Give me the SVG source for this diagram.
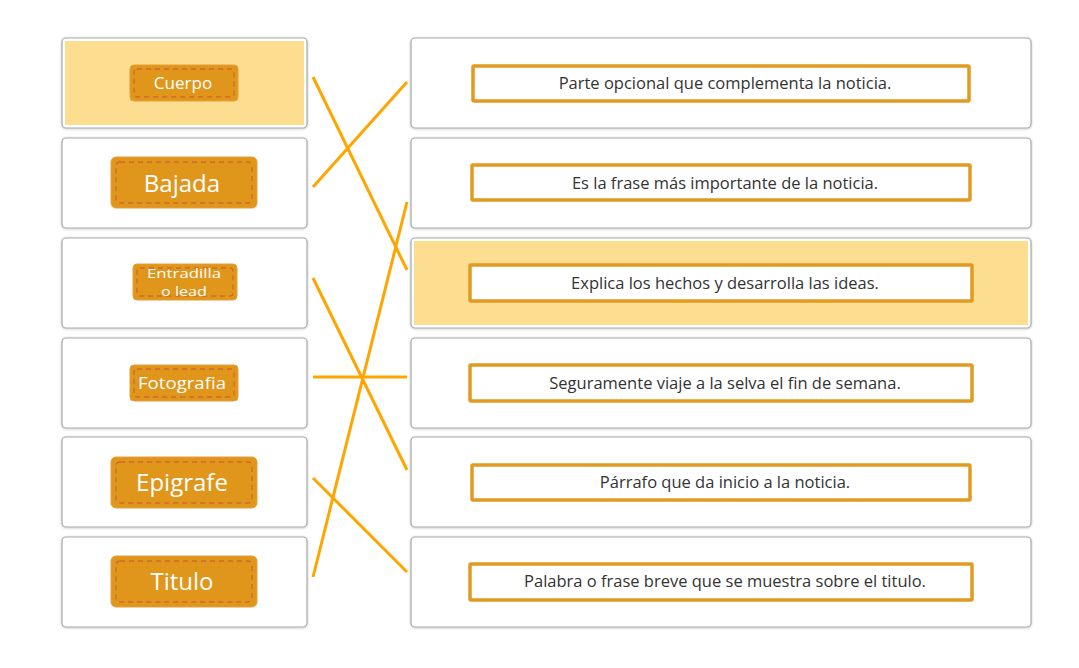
<svg xmlns="http://www.w3.org/2000/svg" width="1079" height="668" viewBox="0 0 1079 668">
<defs>
<filter id="sh" x="-5%" y="-5%" width="110%" height="115%">
<feDropShadow dx="0" dy="0.5" stdDeviation="0.8" flood-color="#000" flood-opacity="0.25"/>
</filter>
</defs>
<style>
.card{fill:#fff;stroke:#a9a9a9;stroke-width:1.2}
.hl{fill:#fddd8f}
.chip{fill:#df961b;stroke:#e3a03a;stroke-width:1}
.dash{fill:none;stroke:#cf6a2b;stroke-width:1.3;stroke-dasharray:5 4}
.lbl{fill:#fff;font-family:"Open Sans","Noto Sans",sans-serif;text-anchor:middle;dominant-baseline:central}
.s{font-size:17px}
.b{font-size:24px}
.opt{fill:#fff;stroke:#e19b20;stroke-width:3.5}
.txt{fill:#333;font-family:"Open Sans","Noto Sans",sans-serif;font-size:16.5px;text-anchor:middle;dominant-baseline:central}
.con{stroke:#ffa500;stroke-width:3;stroke-linecap:butt}
</style>
<rect width="1079" height="668" fill="#fff"/>

<g id="left-cuerpo">
<rect class="card" x="62" y="38" width="245" height="90" rx="4" filter="url(#sh)"/>
<rect class="hl" x="65" y="41" width="239" height="84"/>
<rect class="chip" x="130" y="65" width="108" height="36" rx="4"/>
<rect class="dash" x="134" y="69" width="100" height="28" rx="3"/>
<text class="lbl s" x="183" y="82">Cuerpo</text>
</g>
<g id="left-bajada">
<rect class="card" x="62" y="138" width="245" height="90" rx="4" filter="url(#sh)"/>
<rect class="chip" x="111" y="157" width="146" height="51" rx="5"/>
<rect class="dash" x="116" y="162" width="136" height="41" rx="4"/>
<text class="lbl b" x="182" y="182">Bajada</text>
</g>
<g id="left-entradilla">
<rect class="card" x="62" y="238" width="245" height="90" rx="4" filter="url(#sh)"/>
<rect class="chip" x="133" y="264" width="104" height="36" rx="4"/>
<rect class="dash" x="137" y="268" width="96" height="28" rx="3"/>
<text class="lbl" x="184" y="273" font-size="13" textLength="74" lengthAdjust="spacingAndGlyphs">Entradilla</text>
<text class="lbl" x="184" y="291" font-size="13" textLength="46" lengthAdjust="spacingAndGlyphs">o lead</text>
</g>
<g id="left-fotografia">
<rect class="card" x="62" y="338" width="245" height="90" rx="4" filter="url(#sh)"/>
<rect class="chip" x="130" y="365" width="108" height="36" rx="4"/>
<rect class="dash" x="134" y="369" width="100" height="28" rx="3"/>
<text class="lbl" x="182" y="382" font-size="17" textLength="88" lengthAdjust="spacingAndGlyphs">Fotografia</text>
</g>
<g id="left-epigrafe">
<rect class="card" x="62" y="437" width="245" height="90" rx="4" filter="url(#sh)"/>
<rect class="chip" x="111" y="457" width="146" height="51" rx="5"/>
<rect class="dash" x="116" y="462" width="136" height="41" rx="4"/>
<text class="lbl b" x="182" y="481">Epigrafe</text>
</g>
<g id="left-titulo">
<rect class="card" x="62" y="537" width="245" height="90" rx="4" filter="url(#sh)"/>
<rect class="chip" x="111" y="556" width="146" height="51" rx="5"/>
<rect class="dash" x="116" y="561" width="136" height="41" rx="4"/>
<text class="lbl b" x="182" y="580">Titulo</text>
</g>

<g id="right-1">
<rect class="card" x="411" y="38" width="620" height="90" rx="4" filter="url(#sh)"/>
<rect class="opt" x="473" y="66" width="496" height="35" rx="1"/>
<text class="txt" x="725" y="82">Parte opcional que complementa la noticia.</text>
</g>
<g id="right-2">
<rect class="card" x="411" y="138" width="620" height="90" rx="4" filter="url(#sh)"/>
<rect class="opt" x="472" y="165" width="498" height="35" rx="1"/>
<text class="txt" x="725" y="182">Es la frase más importante de la noticia.</text>
</g>
<g id="right-3">
<rect class="card" x="411" y="238" width="620" height="90" rx="4" filter="url(#sh)"/>
<rect class="hl" x="414" y="241" width="614" height="84"/>
<rect class="opt" x="470" y="265" width="502" height="36" rx="1"/>
<text class="txt" x="725" y="282">Explica los hechos y desarrolla las ideas.</text>
</g>
<g id="right-4">
<rect class="card" x="411" y="338" width="620" height="90" rx="4" filter="url(#sh)"/>
<rect class="opt" x="470" y="365" width="502" height="36" rx="1"/>
<text class="txt" x="725" y="382">Seguramente viaje a la selva el fin de semana.</text>
</g>
<g id="right-5">
<rect class="card" x="411" y="437" width="620" height="90" rx="4" filter="url(#sh)"/>
<rect class="opt" x="472" y="465" width="498" height="35" rx="1"/>
<text class="txt" x="725" y="481">Párrafo que da inicio a la noticia.</text>
</g>
<g id="right-6">
<rect class="card" x="411" y="537" width="620" height="90" rx="4" filter="url(#sh)"/>
<rect class="opt" x="470" y="564" width="502" height="36" rx="1"/>
<text class="txt" x="725" y="580">Palabra o frase breve que se muestra sobre el titulo.</text>
</g>

<g id="connectors">
<line class="con" x1="313" y1="77" x2="407" y2="270"/>
<line class="con" x1="313" y1="187" x2="407" y2="82"/>
<line class="con" x1="313" y1="278" x2="407" y2="470"/>
<line class="con" x1="313" y1="377" x2="407" y2="377"/>
<line class="con" x1="313" y1="478" x2="407" y2="572"/>
<line class="con" x1="313" y1="577" x2="407" y2="202"/>
</g>
</svg>
